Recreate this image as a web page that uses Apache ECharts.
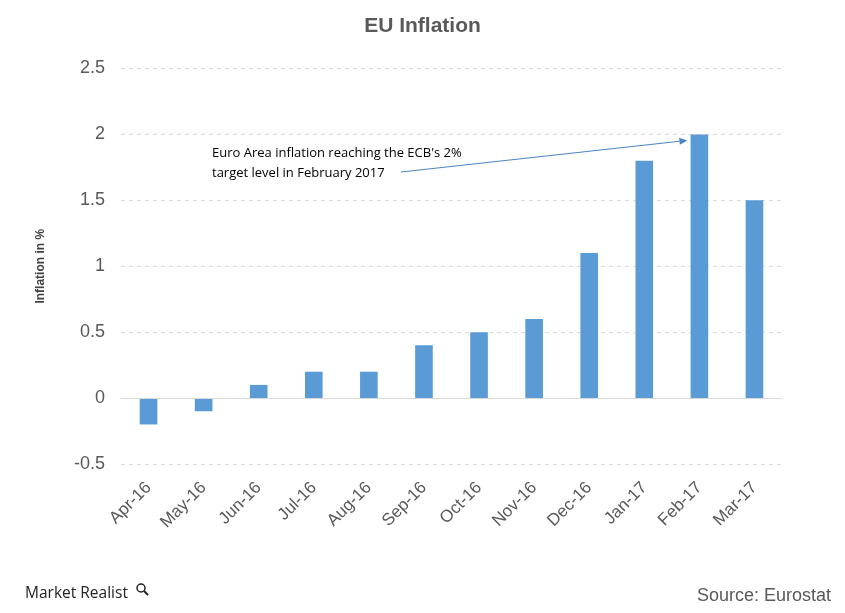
<!DOCTYPE html>
<html>
<head>
<meta charset="utf-8">
<script src="https://cdn.jsdelivr.net/npm/echarts@6/dist/echarts.min.js"></script>
<style>html,body{margin:0;padding:0;background:#fff}#c{width:845px;height:613px}</style>
</head>
<body>
<div id="c"></div>
<script>
var categories = ['Apr-16','May-16','Jun-16','Jul-16','Aug-16','Sep-16','Oct-16','Nov-16','Dec-16','Jan-17','Feb-17','Mar-17'];
var inflation = [-0.2, -0.1, 0.1, 0.2, 0.2, 0.4, 0.5, 0.6, 1.1, 1.8, 2.0, 1.5];
var yTicks = {min: -0.5, max: 2.5, interval: 0.5};
var annotationLines = ["Euro Area inflation reaching the ECB's 2%", 'target level in February 2017'];

var chart = echarts.init(document.getElementById('c'));
var option = {
  animation: false,
  backgroundColor: '#fff',
  title: {
    text: 'EU Inflation', left: 'center', top: 11,
    textStyle: {fontFamily: 'Liberation Sans, Arial', fontSize: 21, fontWeight: 'bold', color: '#595959'}
  },
  grid: {left: 121, right: 63, top: 68.5, bottom: 149, containLabel: false},
  xAxis: {
    type: 'category', data: categories,
    axisLine: {show: false}, axisTick: {show: false},
    axisLabel: {rotate: 45, margin: 21, fontFamily: 'Liberation Sans, Arial', fontSize: 17, color: '#595959'},
    splitLine: {show: false}
  },
  yAxis: {
    type: 'value', min: yTicks.min, max: yTicks.max, interval: yTicks.interval,
    name: 'Inflation in %', nameLocation: 'middle', nameGap: 74, nameRotate: 90,
    nameTextStyle: {fontFamily: 'Liberation Sans, Arial', fontSize: 12, fontWeight: 'bold', color: '#404040'},
    axisLine: {show: false}, axisTick: {show: false},
    axisLabel: {margin: 16, fontFamily: 'Liberation Sans, Arial', fontSize: 18, color: '#595959'},
    splitLine: {lineStyle: {color: '#d9d9d9', type: [4, 4], width: 1}}
  },
  series: [{
    type: 'bar', data: inflation, barWidth: '32%',
    itemStyle: {color: '#5b9bd5'},
    markLine: {
      silent: true, symbol: 'none', label: {show: false},
      lineStyle: {color: '#d9d9d9', type: 'solid', width: 1},
      data: [{yAxis: 0}]
    }
  }]
};
chart.setOption(option);

var end = chart.convertToPixel({seriesIndex: 0}, ['Feb-17', 2]);
var ex = end[0] - 12, ey = end[1] + 6;
var sx = 401, sy = 172;
var ang = Math.atan2(ey - sy, ex - sx);
var ah = 8, aw = 3.5;
var bx = ex - ah * Math.cos(ang), by = ey - ah * Math.sin(ang);
var px = -Math.sin(ang) * aw, py = Math.cos(ang) * aw;
chart.setOption({
  graphic: [
    {type: 'text', left: 212, top: 143, style: {text: annotationLines.join('\n'), font: '13px "Open Sans", Carlito, sans-serif', fill: '#000', lineHeight: 20}},
    {type: 'line', shape: {x1: sx, y1: sy, x2: bx, y2: by}, style: {stroke: '#4a86c5', lineWidth: 1}},
    {type: 'polygon', shape: {points: [[ex, ey], [bx + px, by + py], [bx - px, by - py]]}, style: {fill: '#4a86c5'}},
    {type: 'text', left: 25, top: 586, style: {text: 'Market Realist', font: '500 15.5px "Open Sans", sans-serif', fill: '#222'}},
    {type: 'circle', shape: {cx: 141, cy: 588, r: 4}, style: {fill: 'none', stroke: '#222', lineWidth: 1.5}},
    {type: 'line', shape: {x1: 144, y1: 591, x2: 148, y2: 595}, style: {stroke: '#222', lineWidth: 2}},
    {type: 'text', right: 14, top: 587, style: {text: 'Source: Eurostat', font: '18px "Liberation Sans", Arial', fill: '#595959'}}
  ]
});
</script>
</body>
</html>
